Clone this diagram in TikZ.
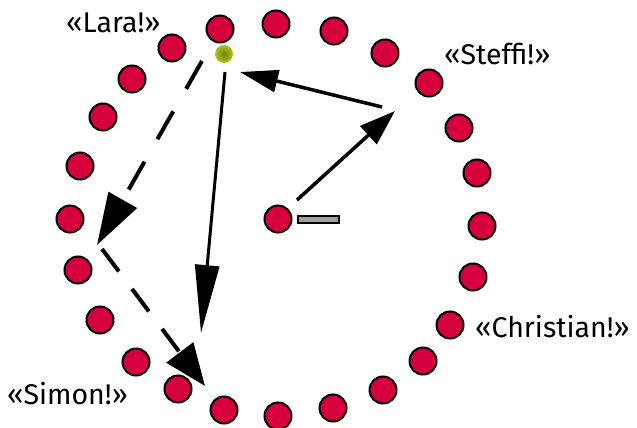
\documentclass[tikz,border=0pt]{standalone}
\usepackage{fontspec}
\setmainfont{Fira Sans}
\usetikzlibrary{arrows.meta}
\definecolor{dotred}{RGB}{215,0,62}
\definecolor{greenA}{RGB}{175,195,30}
\definecolor{greenB}{RGB}{110,130,20}
\definecolor{bargray}{RGB}{160,160,160}
\tikzset{
  dot/.style={circle,draw=black,line width=2pt,fill=dotred,minimum size=27pt,inner sep=0pt},
  lbl/.style={anchor=base west,inner sep=0pt,font=\fontsize{28.5}{32}\selectfont},
  conn/.style={line width=3.5pt,black},
  dashconn/.style={conn,line width=4pt,dash pattern=on 32pt off 26pt}
}
\begin{document}
\begin{tikzpicture}[x=1pt,y=-1pt]
\useasboundingbox (0,0) rectangle (637,428);
% ring of dots
\foreach \n/\x/\y in {1/220/29,2/276/24,3/334/31,4/385/53,5/429/83,6/459/128,7/477/173,8/482/226,9/473/277,10/450/325,11/423/361,12/383/390,13/333/408,14/278/416,15/224/410,16/178/389,17/136/362,18/100/320,19/78/270,20/70/219,21/80/166,22/103/117,23/132/79,24/172/48}
  \node[dot] (d\n) at (\x,\y) {};
% centre dot and bar
\node[dot] (c) at (278,219) {};
\node[draw=black,line width=1.5pt,fill=bargray,minimum width=41pt,minimum height=7pt,inner sep=0pt,anchor=west] (bar) at (297,219.5) {};
% green ball
\node[circle,minimum size=18pt,inner sep=0pt,inner color=greenB,outer color=greenA] (g) at (224,54) {};
% labels
\node[lbl] (lara) at (66,33) {«Lara!»};
\node[lbl] (steffi) at (444,65) {«Steffi!»};
\node[lbl] (christian) at (475,337) {«Christian!»};
\node[lbl] (simon) at (7,404) {«Simon!»};
% connector end points
\coordinate (cs) at (297,200);
\coordinate (st) at (395,111);
\coordinate (ss) at (382,107);
\coordinate (lt) at (240,72);
\coordinate (ls) at (225,72);
\coordinate (sm) at (201,333);
\coordinate (ds) at (202,61);
\coordinate (dt) at (97,245);
\coordinate (es) at (102,249);
\coordinate (et) at (205,386);
% connectors
\draw[conn,-{Triangle[length=36pt,width=24pt]}] (cs) -- (st);
\draw[conn,-{Triangle[length=38pt,width=22pt]}] (ss) -- (lt);
\draw[conn,line width=3pt,-{Triangle[length=68pt,width=24pt]}] (ls) -- (sm);
\draw[dashconn,-{Triangle[length=52pt,width=32pt]}] (ds) -- (dt);
\draw[dashconn,dash pattern=on 28pt off 22pt,-{Triangle[length=42pt,width=33pt]}] (es) -- (et);
\end{tikzpicture}
\end{document}
